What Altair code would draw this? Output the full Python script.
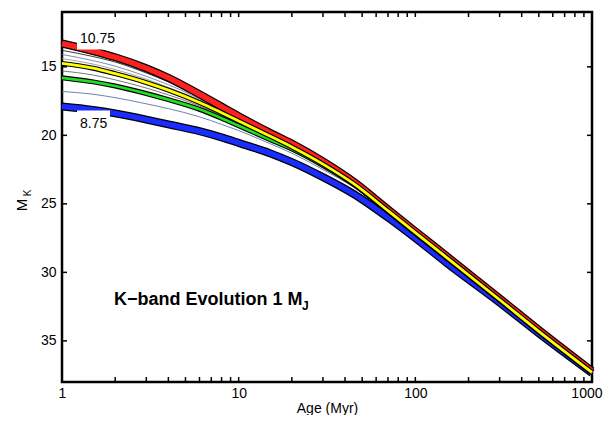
import altair as alt
import pandas as pd

# ---------------- data ----------------
ages = [1, 1.5, 2, 3, 4, 6, 8, 10, 15, 20, 30, 45, 70, 100, 150, 300, 500, 1000]

mk_1075 = [13.3, 13.85, 14.3, 15.1, 15.8, 17.0, 17.9, 18.6, 19.8, 20.6, 21.9, 23.4, 25.4, 27.0, 28.8, 31.9, 34.2, 37.2]
mk_1050 = [13.8, 14.25, 14.65, 15.45, 16.1, 17.2, 18.05, 18.7, 19.85, 20.65, 21.95, 23.45, 25.45, 27.05, 28.85, 31.95, 34.25, 37.25]
mk_1025 = [14.1, 14.55, 14.95, 15.7, 16.3, 17.35, 18.15, 18.8, 19.9, 20.7, 22.0, 23.5, 25.45, 27.05, 28.85, 31.95, 34.25, 37.25]
mk_1000 = [14.4, 14.8, 15.2, 15.9, 16.5, 17.45, 18.25, 18.85, 19.95, 20.75, 22.05, 23.5, 25.5, 27.1, 28.9, 32.0, 34.3, 37.3]
mk_975 = [14.75, 15.1, 15.5, 16.15, 16.7, 17.6, 18.35, 18.95, 20.05, 20.85, 22.1, 23.55, 25.5, 27.1, 28.9, 32.0, 34.3, 37.3]
mk_950 = [15.3, 15.6, 15.95, 16.55, 17.05, 17.85, 18.55, 19.1, 20.15, 20.9, 22.15, 23.55, 25.55, 27.1, 28.9, 32.0, 34.3, 37.3]
mk_925 = [15.8, 16.1, 16.4, 16.95, 17.4, 18.1, 18.75, 19.3, 20.3, 21.0, 22.2, 23.6, 25.55, 27.15, 28.95, 32.0, 34.3, 37.3]
mk_900 = [16.8, 17.0, 17.25, 17.7, 18.05, 18.65, 19.2, 19.65, 20.6, 21.3, 22.5, 23.8, 25.65, 27.2, 29.0, 32.05, 34.35, 37.3]
mk_875 = [17.9, 18.15, 18.4, 18.85, 19.2, 19.7, 20.15, 20.55, 21.3, 21.95, 23.05, 24.3, 26.0, 27.5, 29.3, 32.2, 34.45, 37.35]

series_names = ["10.75", "10.50", "10.25", "10.00", "9.75", "9.50", "9.25", "9.00", "8.75"]
series_values = [mk_1075, mk_1050, mk_1025, mk_1000, mk_975, mk_950, mk_925, mk_900, mk_875]

x_tick_values = [1, 2, 3, 4, 5, 6, 7, 8, 9, 10, 20, 30, 40, 50, 60, 70, 80, 90,
                 100, 200, 300, 400, 500, 600, 700, 800, 900, 1000]
x_label_values = [1, 10, 100, 1000]
y_tick_values = [15, 20, 25, 30, 35]

rows = []
for name, vals in zip(series_names, series_values):
    for a, m in zip(ages, vals):
        rows.append({"age": a, "mk": m, "series": name})
df = pd.DataFrame(rows)

xt = pd.DataFrame({"v": x_tick_values})
yt = pd.DataFrame({"v": y_tick_values})

W, H = 530, 370
FONT = "Liberation Sans"

xscale = alt.Scale(type="log", domain=[1, 1000], nice=False)
yscale = alt.Scale(domain=[11, 38], reverse=True, nice=False, zero=False)

X = alt.X("age:Q", scale=xscale,
          axis=alt.Axis(values=x_label_values, format="d", title="Age (Myr)",
                        grid=False, domain=False, ticks=False, tickSize=0,
                        labelPadding=4, labelFontSize=14, labelFont=FONT,
                        labelColor="black", titleFont=FONT, titleFontSize=14,
                        titleFontWeight="normal", titleColor="black",
                        titlePadding=1, labelFlush=False,
                        labelAlign={"expr": "datum.value >= 1000 ? 'right' : 'center'"},
                        labelOffset={"expr": "datum.value >= 1000 ? 10 : 0"}))
Y = alt.Y("mk:Q", scale=yscale,
          axis=alt.Axis(values=y_tick_values, title=None, grid=False,
                        domain=False, ticks=False, tickSize=0, labelPadding=6,
                        labelFontSize=14, labelFont=FONT, labelColor="black"))

base = alt.Chart(df)


def line(name, color, width):
    return base.transform_filter(alt.datum.series == name).mark_line(
        color=color, strokeWidth=width, interpolate="monotone",
        strokeCap="butt", strokeJoin="round"
    ).encode(x=X, y=Y)


layers = [
    line("10.50", "#222222", 0.9),
    line("10.25", "#6a7fa8", 0.9),
    line("10.00", "#999999", 0.9),
    line("9.50", "#555555", 0.8),
    line("9.00", "#5a75a5", 0.9),
    line("8.75", "black", 8),
    line("8.75", "#1a2cff", 5.5),
    line("9.25", "black", 5),
    line("9.25", "#22dd22", 2.8),
    line("10.75", "black", 8),
    line("10.75", "#ff2020", 5.5),
    line("9.75", "black", 5),
    line("9.75", "#ffff00", 2.8),
]

# label boxes and labels
box = alt.Chart(pd.DataFrame({"k": [0, 1]})).transform_filter(alt.datum.k == 0)
label_box1 = box.mark_rect(color="white").encode(
    x=alt.value(15), x2=alt.value(56), y=alt.value(17), y2=alt.value(37.5))
label_box2 = box.mark_rect(color="white").encode(
    x=alt.value(15), x2=alt.value(48), y=alt.value(98.5), y2=alt.value(122))
lab1 = box.mark_text(text="10.75", align="left", baseline="middle", font=FONT,
                     fontSize=14, color="black").encode(
    x=alt.value(18), y=alt.value(27))
lab2 = box.mark_text(text="8.75", align="left", baseline="middle", font=FONT,
                     fontSize=14, color="black").encode(
    x=alt.value(18), y=alt.value(112))

title_txt = box.mark_text(text="K\u2212band Evolution 1 M", align="left",
                          baseline="middle", font=FONT, fontSize=18,
                          fontWeight="bold", color="black").encode(
    x=alt.value(52), y=alt.value(288))
title_sub = box.mark_text(text="J", align="left", baseline="middle", font=FONT,
                          fontSize=12, fontWeight="bold", color="black").encode(
    x=alt.value(240), y=alt.value(294))

ytitle = box.mark_text(text="M", angle=270, align="center", baseline="middle",
                       font=FONT, fontSize=15, color="black").encode(
    x=alt.value(-40), y=alt.value(193))
ytitle_sub = box.mark_text(text="K", angle=270, align="center",
                           baseline="middle", font=FONT, fontSize=10,
                           color="black").encode(
    x=alt.value(-34), y=alt.value(181))

# inward ticks on all four sides
tick_style = dict(color="black", strokeWidth=1.5)
xt_bottom = alt.Chart(xt).mark_rule(**tick_style).encode(
    x=alt.X("v:Q", scale=xscale), y=alt.value(H), y2=alt.value(H - 5))
xt_top = alt.Chart(xt).mark_rule(**tick_style).encode(
    x=alt.X("v:Q", scale=xscale), y=alt.value(0), y2=alt.value(5))
yt_left = alt.Chart(yt).mark_rule(**tick_style).encode(
    y=alt.Y("v:Q", scale=yscale), x=alt.value(0), x2=alt.value(5))
yt_right = alt.Chart(yt).mark_rule(**tick_style).encode(
    y=alt.Y("v:Q", scale=yscale), x=alt.value(W), x2=alt.value(W - 5))

chart = alt.layer(
    *layers, label_box1, label_box2, lab1, lab2, title_txt, title_sub,
    ytitle, ytitle_sub, xt_bottom, xt_top, yt_left, yt_right
).properties(
    width=W, height=H,
    background="white",
    autosize=alt.AutoSizeParams(type="none"),
    padding={"left": 54, "top": 4, "right": 11, "bottom": 33},
).configure_view(
    stroke="black", strokeWidth=2.5
)

chart.save("out.html", embed_options={"renderer": "svg", "actions": False})
